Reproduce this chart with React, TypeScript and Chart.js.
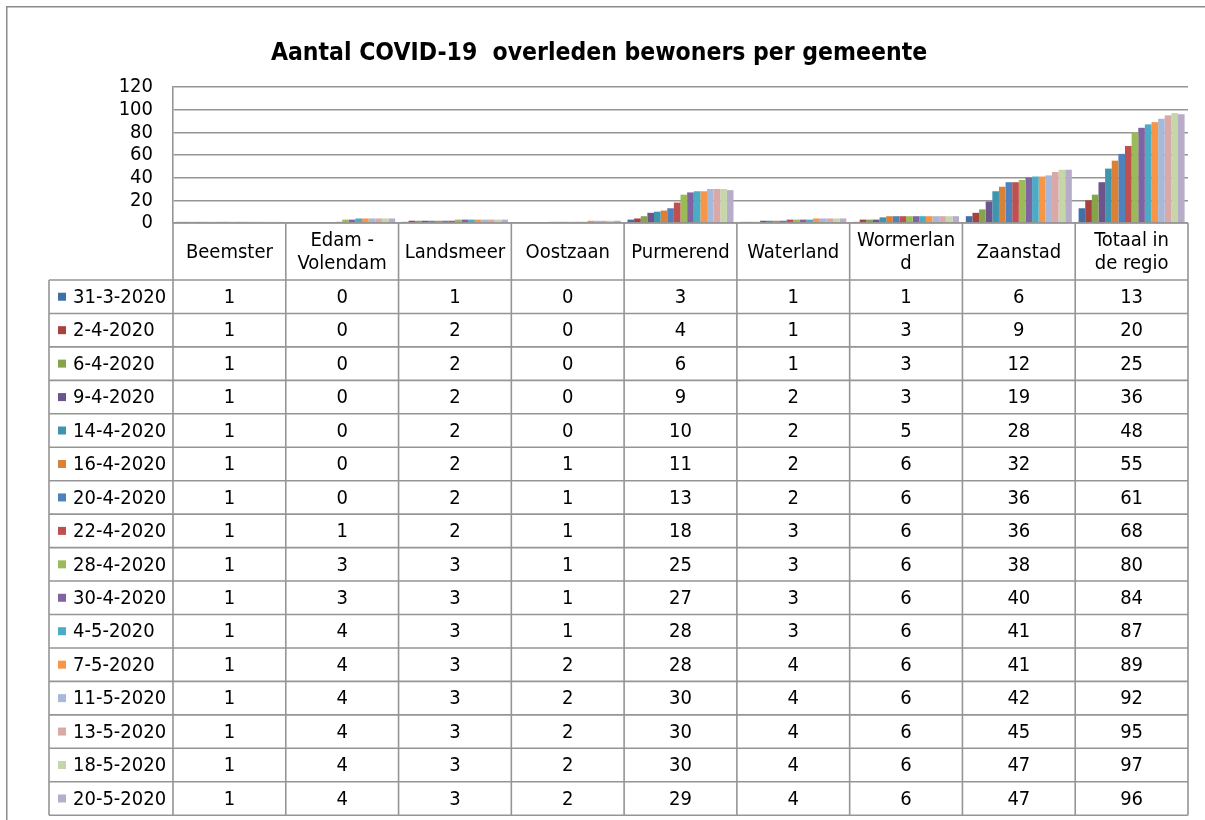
import React, { useEffect, useRef } from 'react';
import { Chart, registerables } from 'chart.js';

Chart.register(...registerables);

const titleText = 'Aantal COVID-19  overleden bewoners per gemeente';

const categories: string[][] = [
  ['Beemster'],
  ['Edam -', 'Volendam'],
  ['Landsmeer'],
  ['Oostzaan'],
  ['Purmerend'],
  ['Waterland'],
  ['Wormerlan', 'd'],
  ['Zaanstad'],
  ['Totaal in', 'de regio'],
];

const dates = [
  '31-3-2020', '2-4-2020', '6-4-2020', '9-4-2020', '14-4-2020', '16-4-2020',
  '20-4-2020', '22-4-2020', '28-4-2020', '30-4-2020', '4-5-2020', '7-5-2020',
  '11-5-2020', '13-5-2020', '18-5-2020', '20-5-2020',
];

const d31_3 = [1, 0, 1, 0, 3, 1, 1, 6, 13];
const d2_4 = [1, 0, 2, 0, 4, 1, 3, 9, 20];
const d6_4 = [1, 0, 2, 0, 6, 1, 3, 12, 25];
const d9_4 = [1, 0, 2, 0, 9, 2, 3, 19, 36];
const d14_4 = [1, 0, 2, 0, 10, 2, 5, 28, 48];
const d16_4 = [1, 0, 2, 1, 11, 2, 6, 32, 55];
const d20_4 = [1, 0, 2, 1, 13, 2, 6, 36, 61];
const d22_4 = [1, 1, 2, 1, 18, 3, 6, 36, 68];
const d28_4 = [1, 3, 3, 1, 25, 3, 6, 38, 80];
const d30_4 = [1, 3, 3, 1, 27, 3, 6, 40, 84];
const d4_5 = [1, 4, 3, 1, 28, 3, 6, 41, 87];
const d7_5 = [1, 4, 3, 2, 28, 4, 6, 41, 89];
const d11_5 = [1, 4, 3, 2, 30, 4, 6, 42, 92];
const d13_5 = [1, 4, 3, 2, 30, 4, 6, 45, 95];
const d18_5 = [1, 4, 3, 2, 30, 4, 6, 47, 97];
const d20_5 = [1, 4, 3, 2, 29, 4, 6, 47, 96];

const seriesValues = [
  d31_3, d2_4, d6_4, d9_4, d14_4, d16_4, d20_4, d22_4,
  d28_4, d30_4, d4_5, d7_5, d11_5, d13_5, d18_5, d20_5,
];

const yTicks = [0, 20, 40, 60, 80, 100, 120];

const colors = [
  '#416FA6', '#A8423F', '#86A44A', '#6E548D', '#3D96AE', '#DA8137',
  '#4F81BD', '#C0504D', '#9BBB59', '#8064A2', '#4BACC6', '#F79646',
  '#A7B9DA', '#DAA8A7', '#C5D7A9', '#B8ACCB',
];

const FONT = "'DejaVu Sans Condensed', 'DejaVu Sans', sans-serif";
const LINE = '#959595';
const TEXT_SIZE = 20;

const tablePlugin = {
  id: 'excelTable',
  beforeDraw(chart: any) {
    const ctx = chart.ctx;
    ctx.save();
    ctx.fillStyle = '#ffffff';
    ctx.fillRect(0, 0, chart.width, chart.height);
    ctx.strokeStyle = '#8a8a8a';
    ctx.lineWidth = 1.5;
    ctx.beginPath();
    ctx.moveTo(6.75, chart.height);
    ctx.lineTo(6.75, 6.75);
    ctx.lineTo(chart.width, 6.75);
    ctx.stroke();
    ctx.restore();
  },
  afterDraw(chart: any) {
    const ctx = chart.ctx;
    const area = chart.chartArea;
    const xs = chart.scales.x;
    const n = categories.length;
    const colW = (area.right - area.left) / n;
    const top = area.bottom;
    const headerH = 57;
    const rowH = 33.45;
    const labelLeft = 49;
    const rowsTop = top + headerH;
    const bottom = rowsTop + rowH * dates.length;

    ctx.save();
    ctx.strokeStyle = LINE;
    ctx.lineWidth = 1.6;
    ctx.beginPath();
    ctx.moveTo(area.left, top);
    ctx.lineTo(area.right, top);
    for (let r = 0; r <= dates.length; r++) {
      const y = rowsTop + r * rowH;
      ctx.moveTo(labelLeft, y);
      ctx.lineTo(area.right, y);
    }
    for (let c = 0; c <= n; c++) {
      const xx = c < n ? xs.getPixelForValue(c) - colW / 2 : xs.getPixelForValue(n - 1) + colW / 2;
      ctx.moveTo(xx, top);
      ctx.lineTo(xx, bottom);
    }
    ctx.moveTo(labelLeft, rowsTop);
    ctx.lineTo(labelLeft, bottom);
    ctx.stroke();

    ctx.fillStyle = '#000000';
    ctx.font = `${TEXT_SIZE}px ${FONT}`;
    ctx.textAlign = 'center';
    ctx.textBaseline = 'middle';
    categories.forEach((lines, c) => {
      const cx = xs.getPixelForValue(c);
      const cy = top + headerH / 2 + 1;
      if (lines.length === 1) {
        ctx.fillText(lines[0], cx, cy);
      } else {
        ctx.fillText(lines[0], cx, cy - 11.5);
        ctx.fillText(lines[1], cx, cy + 11.5);
      }
    });

    dates.forEach((d, r) => {
      const cy = rowsTop + (r + 0.5) * rowH + 1;
      ctx.fillStyle = colors[r];
      ctx.fillRect(58, cy - 5, 8, 8);
      ctx.fillStyle = '#000000';
      ctx.textAlign = 'left';
      ctx.fillText(d, 73, cy);
      ctx.textAlign = 'center';
      seriesValues[r].forEach((v, c) => {
        ctx.fillText(String(v), xs.getPixelForValue(c), cy);
      });
    });
    ctx.restore();
  },
};

export default function App() {
  const ref = useRef<HTMLCanvasElement | null>(null);
  useEffect(() => {
    if (!ref.current) return;
    const chart = new Chart(ref.current, {
      type: 'bar',
      data: {
        labels: categories,
        datasets: seriesValues.map((vals, i) => ({
          label: dates[i],
          data: vals,
          backgroundColor: colors[i],
          borderWidth: 0,
          categoryPercentage: 0.94,
          barPercentage: 1.0,
        })),
      },
      options: {
        responsive: false,
        animation: false,
        layout: { padding: { left: 10, right: 17, top: 0, bottom: 597 } },
        plugins: {
          legend: { display: false },
          tooltip: { enabled: false },
          title: {
            display: true,
            text: titleText,
            color: '#000000',
            font: { family: FONT, size: 24.5, weight: 'bold' },
            padding: { top: 39.3, bottom: 18.3 },
          },
        },
        scales: {
          x: { display: false },
          y: {
            min: 0,
            max: 120,
            afterFit: (s: any) => { s.width = 163; },
            afterBuildTicks: (s: any) => { s.ticks = yTicks.map((v) => ({ value: v })); },
            ticks: {
              color: '#000000',
              padding: 20,
              autoSkip: false,
              font: { family: FONT, size: TEXT_SIZE },
            },
            grid: { color: LINE, lineWidth: 1.6, drawTicks: false },
            border: { display: true, color: LINE, width: 1.6 },
          },
        },
      },
      plugins: [tablePlugin],
    });
    return () => chart.destroy();
  }, []);
  return (
    <div style={{ position: 'absolute', left: 0, top: 0, width: 1205, height: 820 }}>
      <canvas ref={ref} width={1205} height={820} />
    </div>
  );
}
